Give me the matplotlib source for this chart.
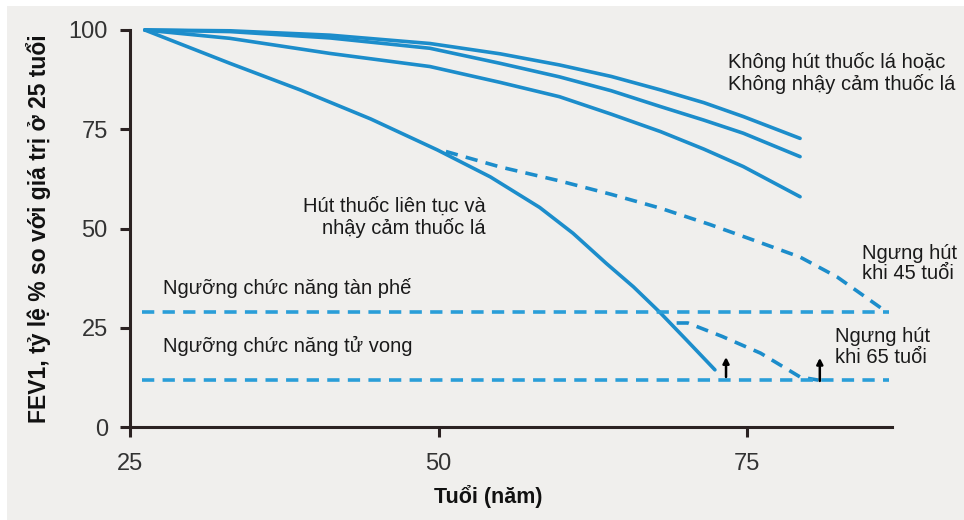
import matplotlib
matplotlib.use("Agg")
import matplotlib.pyplot as plt
from matplotlib.patches import Rectangle

plt.rcParams['font.family'] = ['Liberation Sans', 'DejaVu Sans']

# ---- data ----
nonsmoker_x = [26.2, 33.1, 41.2, 49.3, 55, 59.8, 64, 68, 71.5, 74.7, 79.3]
nonsmoker_a = [100, 99.8, 98.7, 96.6, 94.0, 91.2, 88.3, 84.9, 81.7, 78.2, 72.7]
nonsmoker_b = [100, 99.6, 98.0, 95.4, 91.6, 88.2, 84.7, 80.7, 77.3, 74.0, 68.1]
nonsmoker_c = [100, 97.9, 94.1, 90.8, 86.8, 83.2, 78.8, 74.4, 70.0, 65.6, 58.0]

smoker_x = [26.2, 33.1, 38.8, 44.5, 49.9, 54.2, 58.2, 60.9, 63.6, 65.8, 67.9, 70.1, 72.4]
smoker_y = [100, 91.6, 84.9, 77.6, 69.8, 63.0, 55.3, 48.8, 41.2, 35.3, 29.0, 21.9, 14.4]

quit45_x = [50.6, 55, 59.8, 64, 68, 72, 75.5, 79.3, 82.3, 86.3]
quit45_y = [69.4, 65.5, 62.0, 58.6, 55.1, 51.0, 47.1, 42.8, 37.8, 29.0]

quit65_x = [69.3, 70.2, 73.0, 76.1, 79.3, 80.8]
quit65_y = [26.2, 26.2, 22.8, 18.6, 12.6, 11.8]

threshold_x = [26.0, 86.5]
disability_y = 29.0
death_y = 11.8

arrow_x = [73.3, 80.9]
arrow_y0 = [12.6, 11.6]
arrow_y1 = [17.6, 17.4]

xticks = [25, 50, 75]
yticks = [0, 25, 50, 75, 100]

# ---- styles ----
BG = '#f0efed'
BLUE = '#1c8dcb'
BLUE2 = '#2a9ed8'
AXC = '#2b2222'

fig = plt.figure(figsize=(9.64, 5.2), dpi=100, facecolor=BG)
# white margins at top and left as in reference
fig.patches.append(Rectangle((0, 1 - 6 / 520), 1, 6 / 520, transform=fig.transFigure,
                             facecolor='white', edgecolor='none', zorder=0))
fig.patches.append(Rectangle((0, 0), 7 / 964, 1, transform=fig.transFigure,
                             facecolor='white', edgecolor='none', zorder=0))

ax = fig.add_axes([130 / 964, 1 - 427 / 520, (892 - 130) / 964, (427 - 30) / 520])
ax.set_facecolor(BG)
ax.set_xlim(25, 86.75)
ax.set_ylim(0, 100)

lw = 2.6
for yy in (nonsmoker_a, nonsmoker_b, nonsmoker_c):
    ax.plot(nonsmoker_x, yy, color=BLUE, lw=lw, solid_capstyle='round',
            solid_joinstyle='round', clip_on=False)
ax.plot(smoker_x, smoker_y, color=BLUE, lw=lw, solid_capstyle='round',
        solid_joinstyle='round', clip_on=False)

dash = (0, (3.4, 2.3))
ax.plot(quit45_x, quit45_y, color=BLUE, lw=lw, linestyle=dash, clip_on=False)
ax.plot(quit65_x, quit65_y, color=BLUE, lw=lw, linestyle=dash, clip_on=False)
ax.plot(threshold_x, [disability_y] * 2, color=BLUE2, lw=lw, linestyle=dash, clip_on=False)
ax.plot(threshold_x, [death_y] * 2, color=BLUE2, lw=lw, linestyle=dash, clip_on=False)

for xa, y0, y1 in zip(arrow_x, arrow_y0, arrow_y1):
    ax.annotate('', xy=(xa, y1), xytext=(xa, y0),
                arrowprops=dict(arrowstyle='-|>,head_length=0.35,head_width=0.18',
                                color='black', lw=1.8, shrinkA=0, shrinkB=0))

tfs = 14.5
tc = '#1a1a1a'
ls = 1.1
ax.text(73.5, 89.2, 'Không hút thuốc lá hoặc\nKhông nhậy cảm thuốc lá', ha='left', va='center',
        fontsize=tfs, color=tc, linespacing=ls, clip_on=False)
ax.text(53.8, 52.8, 'Hút thuốc liên tục và\nnhậy cảm thuốc lá', ha='right', va='center',
        multialignment='right', fontsize=tfs, color=tc, linespacing=ls)
ax.text(84.3, 41.2, 'Ngưng hút\nkhi 45 tuổi', ha='left', va='center',
        fontsize=tfs, color=tc, linespacing=ls, clip_on=False)
ax.text(82.1, 20.2, 'Ngưng hút\nkhi 65 tuổi', ha='left', va='center',
        fontsize=tfs, color=tc, linespacing=ls, clip_on=False)
ax.text(27.7, 35.0, 'Ngưỡng chức năng tàn phế', ha='left', va='center',
        fontsize=tfs, color=tc)
ax.text(27.7, 20.4, 'Ngưỡng chức năng tử vong', ha='left', va='center',
        fontsize=tfs, color=tc)

ax.spines['top'].set_visible(False)
ax.spines['right'].set_visible(False)
for s in ('left', 'bottom'):
    ax.spines[s].set_color(AXC)
    ax.spines[s].set_linewidth(2.2)

ax.set_xticks(xticks)
ax.set_yticks(yticks)
ax.set_xticklabels([str(v) for v in xticks])
ax.set_yticklabels([str(v) for v in yticks])
ax.tick_params(axis='both', direction='out', length=7, width=2.2, color=AXC,
               labelsize=17, labelcolor='#333333')
ax.tick_params(axis='y', pad=9)
ax.tick_params(axis='x', pad=12)

ax.set_ylabel('FEV1, tỷ lệ % so với giá trị ở 25 tuổi', fontsize=16.5, fontweight='bold',
              color='#111111')
ax.yaxis.set_label_coords(-(130 - 51) / 762, 0.5)
ax.set_xlabel('Tuổi (năm)', fontsize=15.5, fontweight='bold', color='#111111')
ax.xaxis.set_label_coords((488 - 130) / 762, -(485 - 427) / 397)

fig.savefig('out.png', dpi=100, facecolor=BG)
